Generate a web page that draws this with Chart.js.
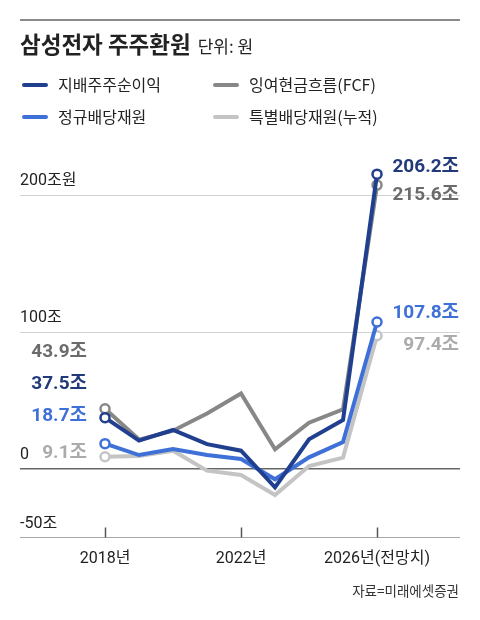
<!DOCTYPE html>
<html><head><meta charset="utf-8">
<script src="https://cdn.jsdelivr.net/npm/chart.js@4.4.1/dist/chart.umd.min.js"></script>
<style>
html,body{margin:0;padding:0;background:#fff;}
#wrap{position:relative;width:480px;height:620px;overflow:hidden;font-family:Roboto,"Noto Sans CJK KR",sans-serif;color:#222;}
#c{position:absolute;left:0;top:0;}
.rule{position:absolute;left:20px;top:19px;width:440px;height:2px;background:#8a8a8a;}
.title{position:absolute;left:20px;top:27px;font-size:22.5px;font-weight:700;line-height:32px;font-family:"Noto Sans CJK KR",sans-serif;color:#222;white-space:nowrap;}
.title span{font-size:17px;font-weight:400;margin-left:7px;}
.leg{position:absolute;font-size:16px;line-height:22px;font-family:"Noto Sans CJK KR",sans-serif;color:#222;white-space:nowrap;}
.mk{position:absolute;width:26px;height:4px;border-radius:2px;}
.src{position:absolute;right:21px;top:580px;font-size:13.5px;line-height:20px;font-family:"Noto Sans CJK KR",sans-serif;color:#333;}
</style></head>
<body>
<div id="wrap">
<canvas id="c" width="480" height="620"></canvas>
<div class="rule"></div>
<div class="title">삼성전자 주주환원<span>단위: 원</span></div>
<div id="legend"></div>
<div class="src">자료=미래에셋증권</div>
</div>
<script>
const years = [2018, 2019, 2020, 2021, 2022, 2023, 2024, 2025, 2026];
const seriesNames = ["지배주주순이익", "잉여현금흐름(FCF)", "정규배당재원", "특별배당재원(누적)"];
const netIncome  = [37.5, 20.7, 28.5, 18.2, 13.4, -13.4, 21.7, 35.8, 215.3];
const fcf        = [44.0, 21.5, 28.0, 40.6, 55.2, 14.4, 33.8, 43.6, 207.3];
const regularDiv = [18.5, 10.2, 14.6, 10.2, 7.3, -7.5, 8.5, 19.7, 107.3];
const specialDiv = [9.0, 9.5, 13.4, -1.2, -4.4, -19.0, 2.2, 8.3, 97.3];
const startLabels = ["37.5조", "43.9조", "18.7조", "9.1조"];
const endLabels   = ["206.2조", "215.6조", "107.8조", "97.4조"];
const yTicks = [-50, 0, 100, 200];
const yTickLabels = ["-50조", "0", "100조", "200조원"];
const xTicks = [2018, 2022, 2026];
const xTickLabels = ["2018년", "2022년", "2026년(전망치)"];

const colors = ["#213f8f", "#878787", "#3f70d8", "#c4c4c4"];
const labelColors = ["#22397c", "#6b6b6b", "#3f70d8", "#ababab"];
// label offsets relative to first/last point (px)
const startOff = [[-18,-33],[-18,-57],[-18,-27],[-18,-3]];
const endOff = [[82,-7],[82,10],[82,-9],[82,9]];

// legend
const legPos = [[22,85],[213,85],[22,117],[213,117]];
const legEl = document.getElementById('legend');
seriesNames.forEach((n,i)=>{
  const [x,y] = legPos[i];
  const m = document.createElement('div'); m.className='mk';
  m.style.left=x+'px'; m.style.top=(y-2)+'px'; m.style.background=colors[i];
  legEl.appendChild(m);
  const t = document.createElement('div'); t.className='leg'; t.textContent=n;
  t.style.left=(x+36)+'px'; t.style.top=(y-12)+'px';
  legEl.appendChild(t);
});

const allData = [netIncome, fcf, regularDiv, specialDiv];
const last = years.length-1;
const drawOrder = [0,2,1,3]; // z-order (lower on top)
const datasets = allData.map((arr,i)=>({
  label: seriesNames[i],
  data: years.map((y,j)=>({x:y, y:arr[j]})),
  borderColor: colors[i],
  borderWidth: 4,
  tension: 0,
  clip: false,
  order: drawOrder[i],
  borderJoinStyle: 'miter',
  pointRadius: ctx => (ctx.dataIndex===0||ctx.dataIndex===last)?4.5:0,
  pointBackgroundColor: '#fff',
  pointBorderColor: colors[i],
  pointBorderWidth: 2.5,
  fill: false
}));

const labelPlugin = {
  id:'labels',
  afterDatasetsDraw(chart){
    const ctx = chart.ctx;
    ctx.save();
    ctx.font = 'bold 19px Roboto, "Noto Sans CJK KR", sans-serif';
    ctx.textAlign='right'; ctx.textBaseline='middle';
    allData.forEach((arr,i)=>{
      const meta = chart.getDatasetMeta(i);
      const p0 = meta.data[0], p1 = meta.data[last];
      ctx.fillStyle = labelColors[i];
      ctx.fillText(startLabels[i], p0.x+startOff[i][0], p0.y+startOff[i][1]);
      ctx.fillText(endLabels[i], p1.x+endOff[i][0], p1.y+endOff[i][1]);
    });
    // x tick marks
    const xs = chart.scales.x, ca = chart.chartArea;
    ctx.strokeStyle='#555'; ctx.lineWidth=1.5;
    xTicks.forEach(v=>{
      const px = Math.round(xs.getPixelForValue(v))+0.5;
      ctx.beginPath(); ctx.moveTo(px, ca.bottom-10); ctx.lineTo(px, ca.bottom); ctx.stroke();
    });
    ctx.restore();
  }
};

new Chart(document.getElementById('c'), {
  type:'line',
  data:{datasets},
  options:{
    responsive:false, animation:false, devicePixelRatio:1,
    layout:{padding:{left:20,right:20,top:154,bottom:42.5}},
    plugins:{legend:{display:false}, tooltip:{enabled:false}},
    scales:{
      x:{
        type:'linear', min:2015.5, max:2028.44,
        afterBuildTicks: s=>{ s.ticks = xTicks.map(v=>({value:v})); },
        afterFit: s=>{ s.height = 40; },
        grid:{display:false, drawTicks:false},
        border:{display:false},
        ticks:{padding:12, maxRotation:0, autoSkip:false, color:'#222',
          font:{size:16, family:'Roboto, "Noto Sans CJK KR", sans-serif'},
          callback: v => xTickLabels[xTicks.indexOf(v)]}
      },
      y:{
        min:-50, max:230,
        afterBuildTicks: s=>{ s.ticks = yTicks.map(v=>({value:v})); },
        afterFit: s=>{ s.width = 0; },
        grid:{drawTicks:false, lineWidth: c => (c.tick && c.tick.value===0)?1.5:1,
          color: c => { const v = c.tick && c.tick.value; return v===0?'#666':(v===-50?'#a8a8a8':'#d2d2d2'); }},
        border:{display:false},
        ticks:{mirror:true, padding:0, labelOffset:-14, color:'#222', autoSkip:false,
          font:{size:16, family:'Roboto, "Noto Sans CJK KR", sans-serif'},
          callback: v => yTickLabels[yTicks.indexOf(v)]}
      }
    }
  },
  plugins:[labelPlugin]
});
</script>
</body></html>
